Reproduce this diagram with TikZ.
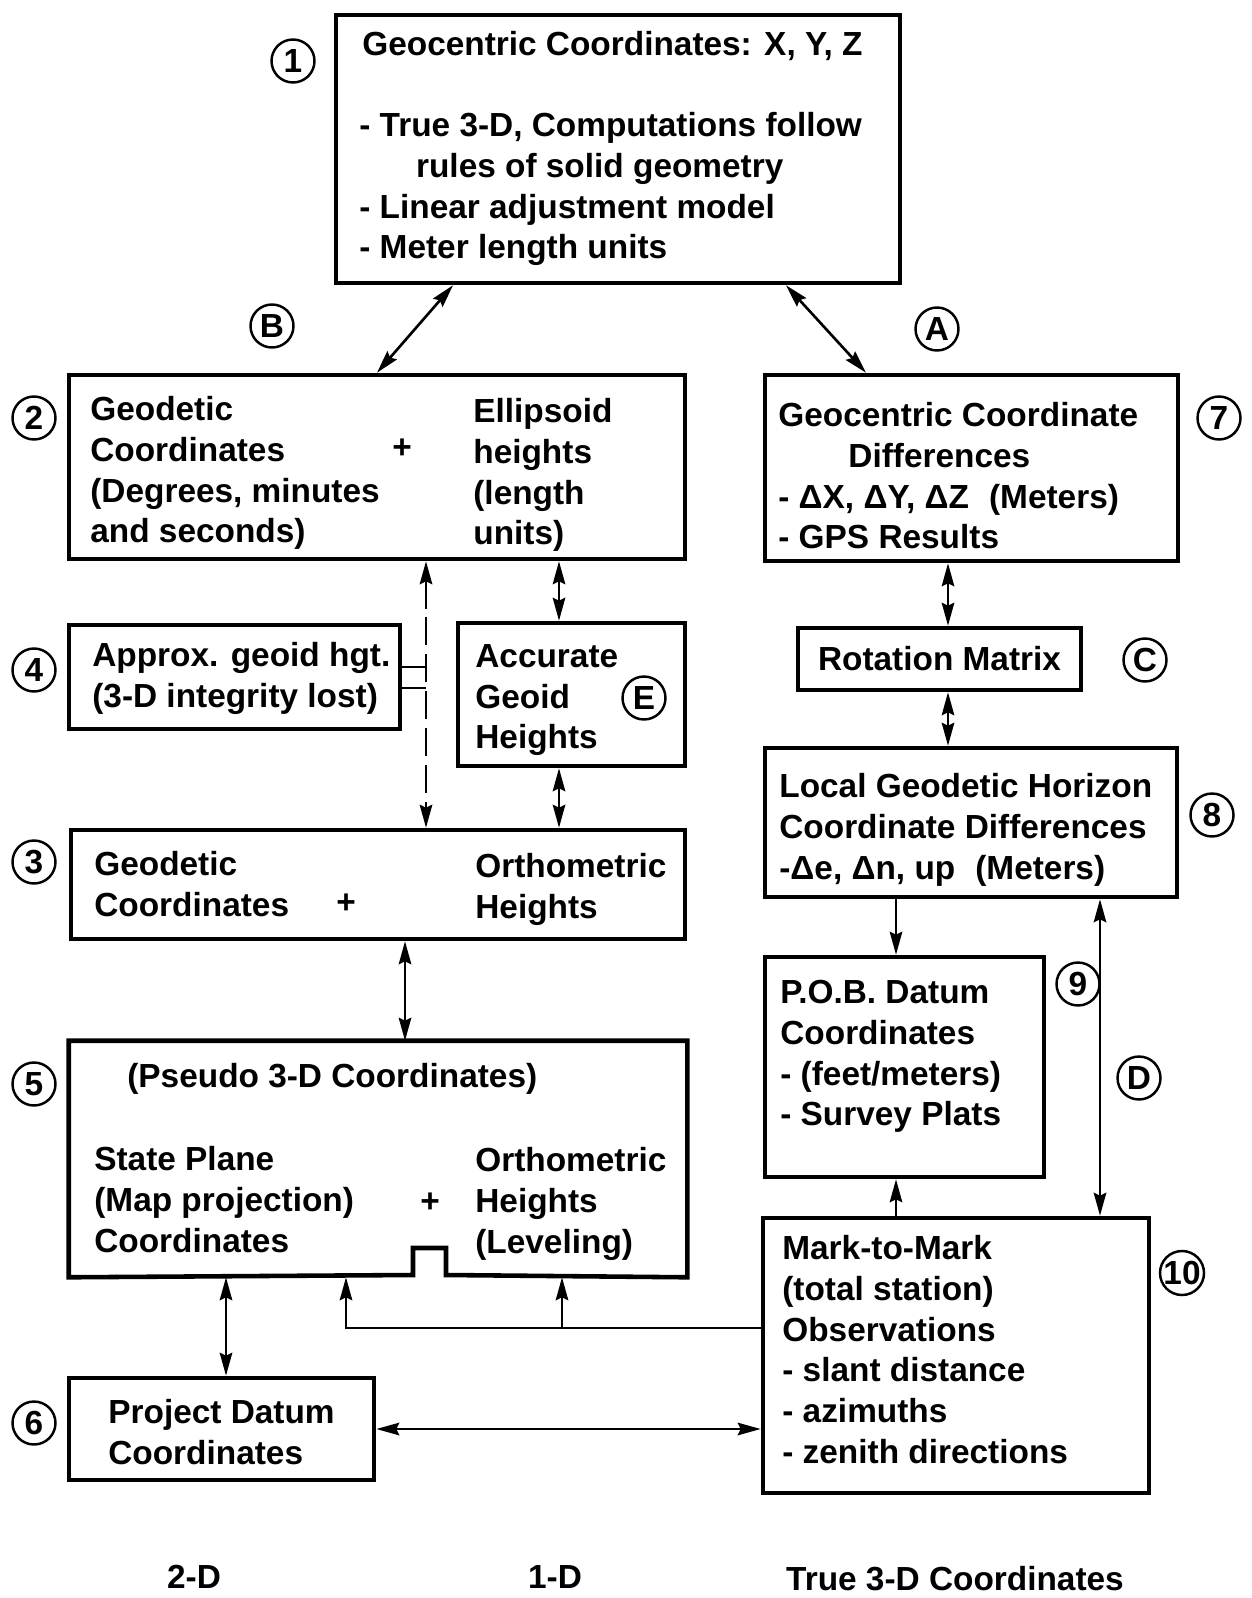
\documentclass[tikz,border=0pt]{standalone}
\usepackage{fontspec}
\setmainfont{Liberation Sans}
\usetikzlibrary{arrows.meta, fit}

\begin{document}
\begin{tikzpicture}[x=0.02cm, y=-0.02cm]
        %style
        \tikzset{box/.style = {draw, line width=2.6pt, inner sep=0pt}}
        \tikzset{txt/.style = {anchor=north west, inner sep=0pt, align=left, font=\bfseries\fontsize{19}{23.2}\selectfont}}
        \tikzset{lbl/.style = {inner sep=0pt, font=\bfseries\fontsize{19}{23}\selectfont}}
        \tikzset{num/.style = {shape=circle, draw, line width=1.4pt, minimum size=0.86cm, inner sep=0pt, font=\bfseries\fontsize{19}{19}\selectfont}}
        \tikzset{>={Stealth[length=4.6mm, width=2.5mm, inset=0.6mm]}}
        \tikzset{dbl/.style = {line width=1.5pt, <->}}
        \tikzset{one/.style = {line width=1.5pt, ->}}
        \useasboundingbox (0,0) rectangle (1251,1598);
        % boxes
        \node[box, fit={(336,15) (900,283)}]    (geoc)  {};
        \node[box, fit={(69,375) (685,559)}]    (geod)  {};
        \node[box, fit={(765,375) (1178,561)}]  (gdiff) {};
        \node[box, fit={(69,625) (400,729)}]    (apx)   {};
        \node[box, fit={(458,623) (685,766)}]   (acc)   {};
        \node[box, fit={(798,628) (1081,690)}]  (rot)   {};
        \node[box, fit={(765,748) (1177,897)}]  (lgh)   {};
        \node[box, fit={(71,830) (685,939)}]    (orth)  {};
        \node[box, fit={(765,957) (1044,1177)}] (pob)   {};
        \node[box, draw=none, fit={(71,1043) (685,1275)}] (spc) {};
        \node[box, fit={(763,1218) (1149,1493)}] (m2m)  {};
        \node[box, fit={(69,1378) (374,1480)}]  (pdc)   {};
        \draw[line width=2.6pt] (spc.south west) -- (spc.north west) -- (spc.north east) -- (spc.south east)
              -- (446,1275) -- (446,1248) -- (413,1248) -- (413,1275) -- cycle;
        % texts
        \node[txt] (geoct) at (362,31)  {Geocentric Coordinates: X, Y, Z};
        \node[txt] (geocl) at (359,112) {- True 3-D, Computations follow\\\hspace*{1.7em}rules of solid geometry\\- Linear adjustment model\\- Meter length units};
        \node[txt] (geodl) at (90,396)  {Geodetic\\Coordinates\\(Degrees, minutes\\and seconds)};
        \node[txt] (geodr) at (473,398) {Ellipsoid\\heights\\(length\\units)};
        \node[lbl] (geodp) at (402,449) {+};
        \node[txt] (gdifft) at (778,402) {Geocentric Coordinate\\\hspace*{2.1em}Differences\\- ΔX, ΔY, ΔZ\hspace{0.6em}(Meters)\\- GPS Results};
        \node[txt] (apxt)  at (92,642)  {Approx. geoid hgt.\\(3-D integrity lost)};
        \node[txt] (acct)  at (475,644) {Accurate\\Geoid\\Heights};
        \node[txt, anchor=center] (rott) at (rot.center) {Rotation Matrix};
        \node[txt] (lght)  at (779,773) {Local Geodetic Horizon\\Coordinate Differences\\-Δe, Δn, up\hspace{0.6em}(Meters)};
        \node[txt] (orthl) at (94,851)  {Geodetic\\Coordinates};
        \node[txt] (orthr) at (475,853) {Orthometric\\Heights};
        \node[lbl] (orthp) at (346,904) {+};
        \node[txt] (pobt)  at (780,980) {P.O.B. Datum\\Coordinates\\- (feet/meters)\\- Survey Plats};
        \node[txt] (spct)  at (127,1063) {(Pseudo 3-D Coordinates)};
        \node[txt] (spcl)  at (94,1146) {State Plane\\(Map projection)\\Coordinates};
        \node[txt] (spcr)  at (475,1147) {Orthometric\\Heights\\(Leveling)};
        \node[lbl] (spcp)  at (430,1203) {+};
        \node[txt] (m2mt)  at (782,1235) {Mark-to-Mark\\(total station)\\Observations\\- slant distance\\- azimuths\\- zenith directions};
        \node[txt] (pdct)  at (108,1399) {Project Datum\\Coordinates};
        % circled numbers and letters
        \node[num] (n1)  at (293,61)    {1};
        \node[num] (n2)  at (34,418)    {2};
        \node[num] (n3)  at (34,862)    {3};
        \node[num] (n4)  at (34,670)    {4};
        \node[num] (n5)  at (34,1084)   {5};
        \node[num] (n6)  at (34,1423)   {6};
        \node[num] (n7)  at (1219,418)  {7};
        \node[num] (n8)  at (1212,815)  {8};
        \node[num] (n9)  at (1078,984)  {9};
        \node[num] (n10) at (1182,1273) {10};
        \node[num] (la)  at (937,329)   {A};
        \node[num] (lb)  at (272,326)   {B};
        \node[num] (lc)  at (1145,660)  {C};
        \node[num] (ld)  at (1139,1078) {D};
        \node[num] (le)  at (644,698)   {E};
        % bottom labels
        \node[lbl] (d2) at (194,1577) {2-D};
        \node[lbl] (d1) at (555,1577) {1-D};
        \node[lbl] (d3) at (955,1579) {True 3-D Coordinates};
        % connectors
        \draw[dbl] (453,0 |- geoc.south) -- (377,0 |- geod.north);
        \draw[dbl] (786,0 |- geoc.south) -- (866,0 |- gdiff.north);
        \draw[dbl, dash pattern=on 16pt off 5pt] (426,0 |- geod.south) -- (426,0 |- orth.north);
        \draw[line width=1.5pt] (apx.east |- 0,667) -- (426,667);
        \draw[line width=1.5pt] (apx.east |- 0,688) -- (426,688);
        \draw[dbl] (559,0 |- geod.south) -- (559,0 |- acc.north);
        \draw[dbl] (559,0 |- acc.south) -- (559,0 |- orth.north);
        \draw[dbl] (948,0 |- gdiff.south) -- (948,0 |- rot.north);
        \draw[dbl] (948,0 |- rot.south) -- (948,0 |- lgh.north);
        \draw[dbl] (405,0 |- orth.south) -- (405,0 |- spc.north);
        \draw[one] (896,0 |- lgh.south) -- (896,0 |- pob.north);
        \draw[dbl] (1100,0 |- lgh.south) -- (1100,0 |- m2m.north);
        \draw[one] (896,0 |- m2m.north) -- (896,0 |- pob.south);
        \coordinate (jn) at (562,1328);
        \draw[one] (m2m.west |- jn) -| (346,0 |- spc.south);
        \draw[one] (jn) -- (562,0 |- spc.south);
        \draw[dbl] (226,0 |- spc.south) -- (226,0 |- pdc.north);
        \draw[dbl] (pdc.east |- 0,1429) -- (m2m.west |- 0,1429);
\end{tikzpicture}
\end{document}
